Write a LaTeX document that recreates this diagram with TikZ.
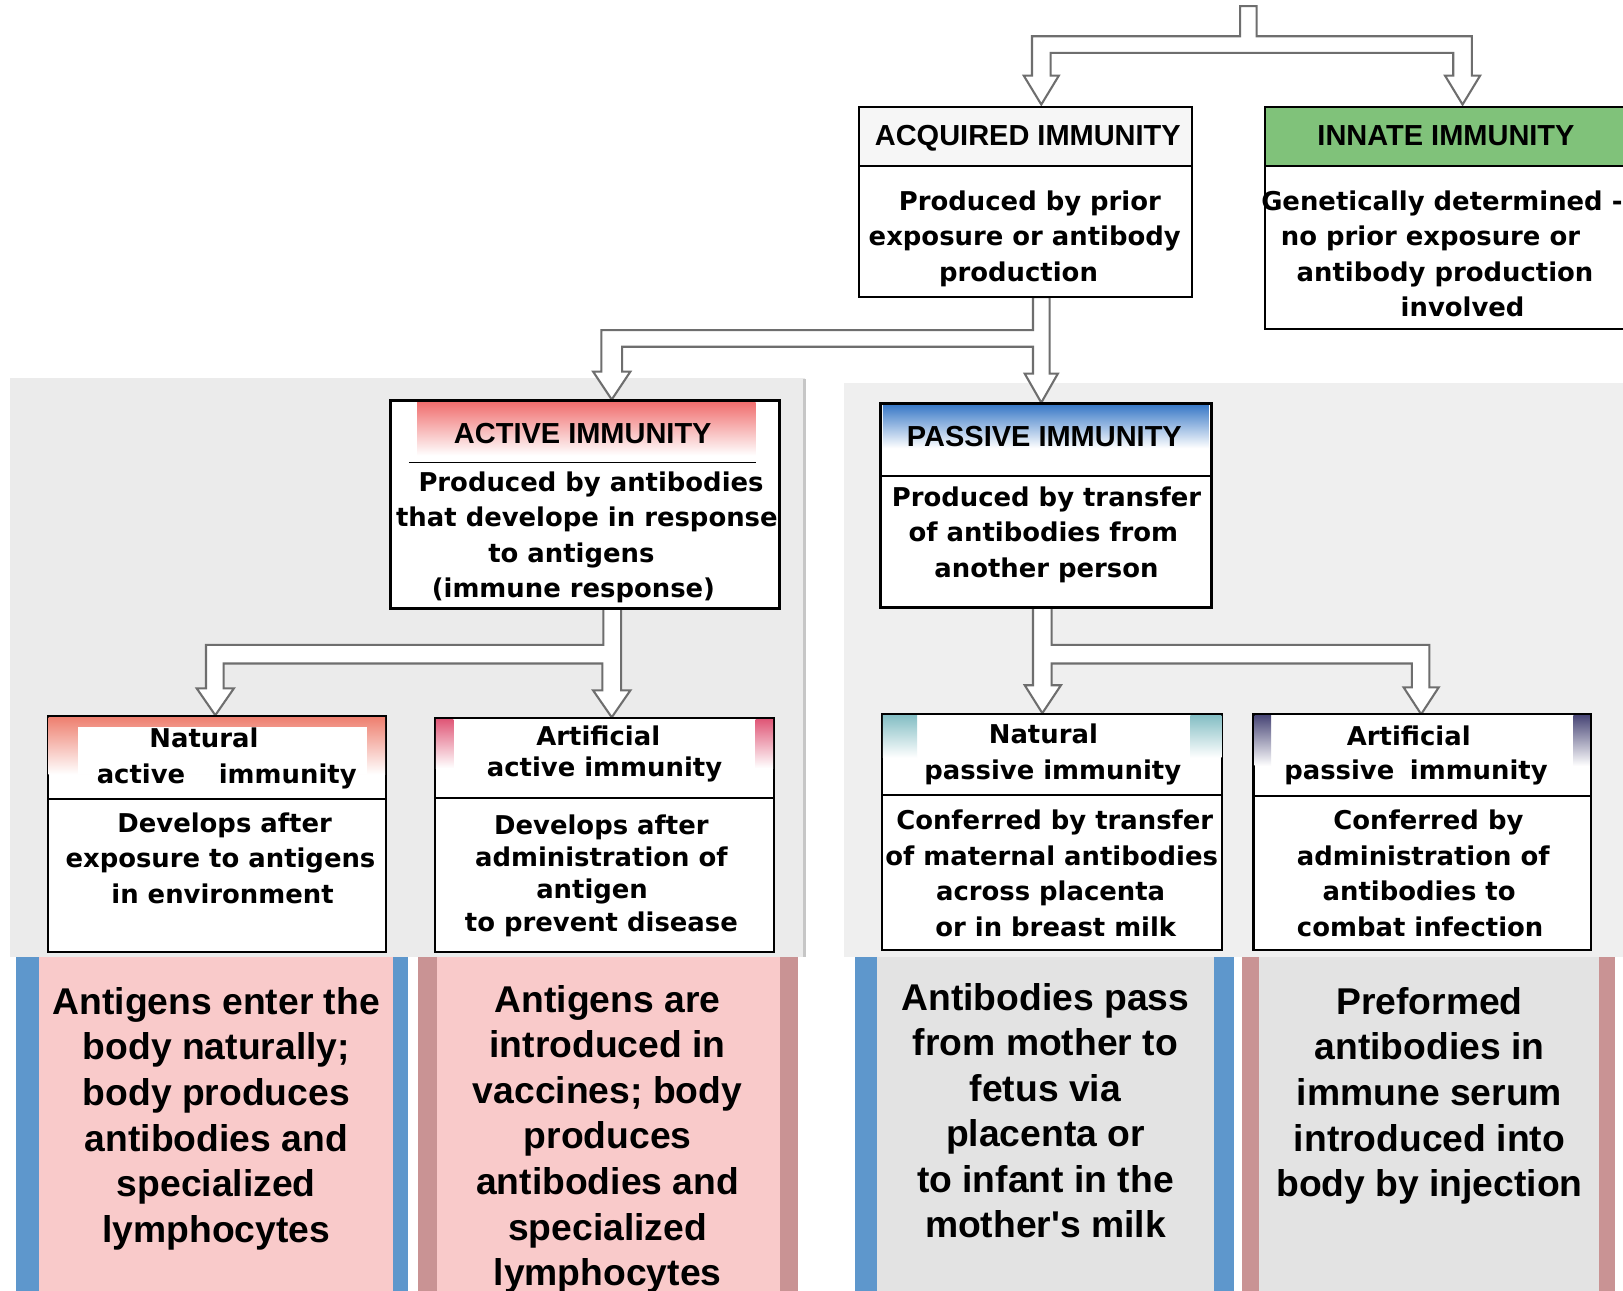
\documentclass[tikz,border=0pt]{standalone}
\usepackage{fontspec}
\setmainfont{Liberation Sans}
\newfontfamily\bodyfont{DejaVu Sans}
\definecolor{pinkfill}{RGB}{249,202,202}
\definecolor{bluestripe}{RGB}{94,151,204}
\definecolor{mauvestripe}{RGB}{201,147,148}
\definecolor{grayfill}{RGB}{227,227,227}
\definecolor{panelL}{RGB}{235,235,235}
\definecolor{panelR}{RGB}{239,239,239}
\definecolor{innategreen}{RGB}{128,194,122}
\definecolor{activered}{RGB}{240,112,112}
\definecolor{passiveblue}{RGB}{62,124,200}
\definecolor{natactred}{RGB}{238,128,112}
\definecolor{artactred}{RGB}{224,88,120}
\definecolor{natpasteal}{RGB}{132,190,196}
\definecolor{artpasslate}{RGB}{72,70,118}
\definecolor{arrowgray}{RGB}{110,110,110}
\newcommand\txtlines[5]{\foreach \xx/\ltext [count=\i] in {#5} {\node[#2] (#1\i) at (\xx,{#3+(\i-1)*#4}) {\ltext};}}
\tikzset{
 bodytxt/.style={font=\bodyfont\bfseries\fontsize{25}{30}\selectfont, inner sep=0pt, text height=17pt, text depth=0pt},
 hdtxt/.style={font=\bfseries\fontsize{28}{32}\selectfont, inner sep=0pt, text height=20pt, text depth=0pt},
 bigtxt/.style={font=\bfseries\fontsize{36}{40}\selectfont, inner sep=0pt, text height=24pt, text depth=0pt},
 boxnode/.style={draw=black, line width=2pt, fill=white, anchor=north west, inner sep=0pt, outer sep=0pt},
 hollow/.style={draw=arrowgray, line width=2pt, fill=white, line join=miter},
 divider/.style={line width=2pt},
}
\begin{document}
\begin{tikzpicture}[x=1pt,y=-1pt]
\useasboundingbox (0,0) rectangle (1568,1247);
\clip (0,0) rectangle (1568,1247);
\fill[white] (0,0) rectangle (1568,1247);
% panels
\fill[panelL] (10,365) rectangle (778,925);
\draw[gray!45, line width=3pt] (777,366) -- (777,925);
\fill[panelR] (815,370) rectangle (1575,925);
% hollow arrows
\draw[hollow] (1198,6) -- (1198,35) -- (997,35) -- (997,73) -- (989,73) -- (1006,101) -- (1023,73) -- (1015,73) -- (1015,51) -- (1404,51) -- (1404,73) -- (1396,73) -- (1413,101) -- (1430,73) -- (1422,73) -- (1422,35) -- (1214,35) -- (1214,6) -- cycle;
\draw[hollow] (998,287) -- (998,319) -- (581,319) -- (581,359) -- (573,359) -- (591,386) -- (609,359) -- (601,359) -- (601,335) -- (998,335) -- (998,361) -- (990,361) -- (1006,389) -- (1022,361) -- (1014,361) -- (1014,287) -- cycle;
\draw[hollow] (583,588) -- (583,623) -- (199,623) -- (199,665) -- (190,665) -- (208,691) -- (226,665) -- (216,665) -- (216,641) -- (582,641) -- (582,667) -- (573,667) -- (591,693) -- (609,667) -- (600,667) -- (600,588) -- cycle;
\draw[hollow] (998,587) -- (998,662) -- (990,662) -- (1007,689) -- (1025,662) -- (1016,662) -- (1016,641) -- (1364,641) -- (1364,664) -- (1356,664) -- (1373,690) -- (1390,664) -- (1381,664) -- (1381,623) -- (1016,623) -- (1016,587) -- cycle;
% boxes
\node[boxnode, minimum width=322pt, minimum height=184pt] (acq) at (830,103) {};
\fill[gray!7] (831,104) rectangle (1151,159);
\draw[divider] (830,160) -- (1152,160);
\node[boxnode, minimum width=358pt, minimum height=215pt] (inn) at (1222,103) {};
\fill[innategreen] (1223,104) rectangle (1580,159);
\draw[divider] (1222,160) -- (1580,160);
\node[boxnode, line width=3pt, minimum width=376pt, minimum height=201pt] (act) at (377,387) {};
\shade[top color=activered, bottom color=white] (403,389) rectangle (730,440);
\draw[line width=1.5pt] (395,447) -- (730,447);
\node[boxnode, line width=3pt, minimum width=319pt, minimum height=197pt] (pas) at (851,390) {};
\shade[top color=passiveblue, bottom color=white] (853,392) rectangle (1168,433);
\draw[divider] (851,460) -- (1170,460);
\node[boxnode, minimum width=327pt, minimum height=228pt] (na) at (46,692) {};
\shade[top color=natactred, bottom color=white] (47,693) rectangle (372,748);
\fill[white] (75,702) rectangle (355,748);
\draw[divider] (46,772) -- (373,772);
\node[boxnode, minimum width=328pt, minimum height=226pt] (aa) at (420,694) {};
\shade[top color=artactred, bottom color=white] (421,695) rectangle (438,742);
\shade[top color=artactred, bottom color=white] (730,695) rectangle (747,742);
\draw[divider] (420,771) -- (748,771);
\node[boxnode, minimum width=329pt, minimum height=228pt] (np) at (852,690) {};
\shade[top color=natpasteal, bottom color=white] (853,691) rectangle (886,732);
\shade[top color=natpasteal, bottom color=white] (1150,691) rectangle (1180,732);
\draw[divider] (852,768) -- (1181,768);
\node[boxnode, minimum width=326pt, minimum height=228pt] (ap) at (1211,690) {};
\shade[top color=artpasslate, bottom color=white] (1212,691) rectangle (1228,740);
\shade[top color=artpasslate, bottom color=white] (1520,691) rectangle (1536,740);
\draw[divider] (1211,769) -- (1537,769);
% bottom boxes
\fill[bluestripe] (15,925) rectangle (38,1260);
\fill[pinkfill] (38,925) rectangle (380,1260);
\fill[bluestripe] (380,925) rectangle (394,1260);
\fill[mauvestripe] (404,925) rectangle (422,1260);
\fill[pinkfill] (422,925) rectangle (754,1260);
\fill[mauvestripe] (754,925) rectangle (771,1260);
\fill[bluestripe] (826,925) rectangle (847,1260);
\fill[grayfill] (847,925) rectangle (1173,1260);
\fill[bluestripe] (1173,925) rectangle (1192,1260);
\fill[mauvestripe] (1200,925) rectangle (1216,1260);
\fill[grayfill] (1216,925) rectangle (1545,1260);
\fill[mauvestripe] (1545,925) rectangle (1560,1260);
% headers
\node[hdtxt] (acqh) at (993,131) {ACQUIRED IMMUNITY};
\node[hdtxt] (innh) at (1397,131) {INNATE IMMUNITY};
\node[hdtxt] (acth) at (563,418) {ACTIVE IMMUNITY};
\node[hdtxt] (pash) at (1009,421) {PASSIVE IMMUNITY};
% body texts
\txtlines{acqb}{bodytxt}{195}{34}{995/Produced by prior, 990/exposure or antibody, 984/production}
\txtlines{innb}{bodytxt}{195}{34}{1393/Genetically determined -, 1382/no prior exposure or, 1396/antibody production, 1413/involved}
\txtlines{actb}{bodytxt}{466}{34.3}{571/Produced by antibodies, 567/that develope in response, 552/to antigens, 554/(immune response)}
\txtlines{pasb}{bodytxt}{481}{34}{1011/Produced by transfer, 1008/of antibodies from, 1011/another person}
\txtlines{nah}{bodytxt}{714}{34}{197/Natural, 219/active\hspace{1.3em}immunity}
\txtlines{nab}{bodytxt}{796}{34}{217/Develops after, 213/exposure to antigens, 215/in environment}
\txtlines{aah}{bodytxt}{712}{30}{578/Artificial, 584/active immunity}
\txtlines{aab}{bodytxt}{798}{31}{581/Develops after, 581/administration of, 572/antigen, 581/to prevent disease}
\txtlines{nph}{bodytxt}{710}{35}{1008/Natural, 1017/passive immunity}
\txtlines{npb}{bodytxt}{793}{34.3}{1019/Conferred by transfer, 1016/of maternal antibodies, 1015/across placenta, 1020/or in breast milk}
\txtlines{aph}{bodytxt}{712}{33}{1361/Artificial, 1368/passive\hspace{0.6em}immunity}
\txtlines{apb}{bodytxt}{793}{34.3}{1380/Conferred by, 1375/administration of, 1371/antibodies to, 1372/combat infection}
\txtlines{bta}{bigtxt}{968}{44}{209/Antigens enter the, 209/body naturally;, 209/body produces, 209/antibodies and, 209/specialized, 209/lymphocytes}
\txtlines{btb}{bigtxt}{966}{44}{587/Antigens are, 587/introduced in, 587/vaccines; body, 587/produces, 587/antibodies and, 587/specialized, 587/lymphocytes}
\txtlines{btc}{bigtxt}{964}{44}{1010/Antibodies pass, 1010/from mother to, 1010/fetus via, 1010/placenta or, 1010/to infant in the, 1010/mother\textquotesingle s milk}
\txtlines{btd}{bigtxt}{968}{44}{1381/Preformed, 1381/antibodies in, 1381/immune serum, 1381/introduced into, 1381/body by injection}
\end{tikzpicture}
\end{document}
